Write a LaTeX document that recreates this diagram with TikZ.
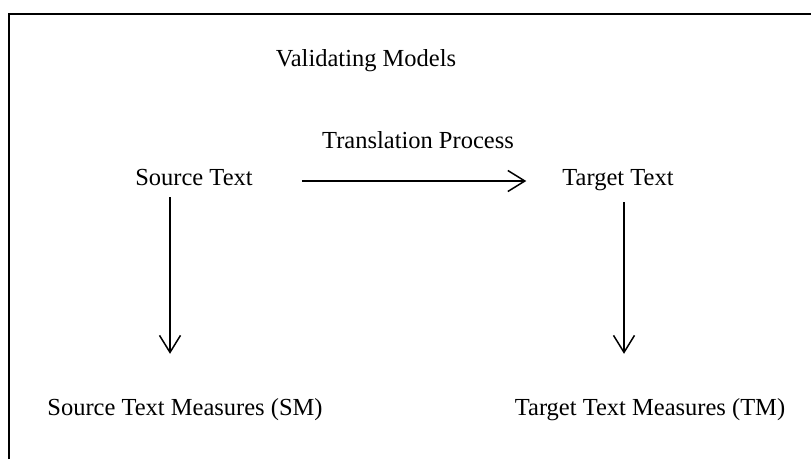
\documentclass[tikz,border=0pt]{standalone}
\usepackage{fontspec}
\setmainfont{Liberation Serif}
\usepackage{tikz}
\usetikzlibrary{arrows.meta,calc}

\begin{document}
\begin{tikzpicture}[x=1pt, y=-1pt,
  lbl/.style={font=\fontsize{24.5}{29}\selectfont, inner sep=0pt, anchor=base},
  arr/.style={-{Straight Barb[length=17pt, width=21pt]}, line width=1.5pt},
  frame/.style={line width=2pt},
]
\useasboundingbox (0,0) rectangle (811,459);
% open frame: only top and left edges show
\draw[frame] (9,459) -- (9,14) -- (811,14);

% labels
\node[lbl] (title) at (366,66) {Validating Models};
\node[lbl] (proc) at (418,148) {Translation Process};
\node[lbl] (src) at (194,185) {Source Text};
\node[lbl] (tgt) at (618,185) {Target Text};
\node[lbl] (srcm) at (185,415) {Source Text Measures (SM)};
\node[lbl] (tgtm) at (650,415) {Target Text Measures (TM)};

% translation arrow
\draw[arr, shorten <=49pt, shorten >=36pt]
  ([yshift=4pt]src.base east) -- ([yshift=4pt]tgt.base west);

% measuring arrows
\draw[arr, shorten <=12pt, shorten >=44pt]
  ([xshift=-24pt]src.south) -- ([xshift=-24pt]src.south |- srcm.north);
\draw[arr, shorten <=12pt, shorten >=44pt]
  ([xshift=6pt]tgt.south) -- ([xshift=6pt]tgt.south |- tgtm.north);
\end{tikzpicture}
\end{document}
